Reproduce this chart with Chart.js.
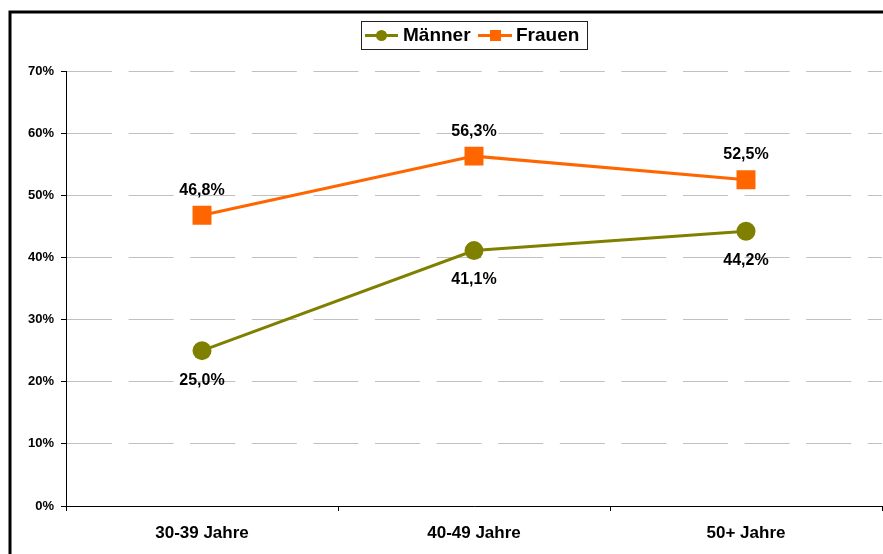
<!DOCTYPE html>
<html>
<head>
    <meta charset="utf-8">
    <title>Männer / Frauen nach Alter</title>
    <script src="https://cdn.jsdelivr.net/npm/chart.js"></script>
    <style>
        html, body { margin: 0; padding: 0; background: #fff; }
    </style>
</head>
<body>
    <div style="width: 883px; height: 554px;">
        <canvas id="myChart" width="883" height="554"></canvas>
    </div>
    <script>
        // data
        const ageGroups = ['30-39 Jahre', '40-49 Jahre', '50+ Jahre'];
        const maenner = [25.0, 41.1, 44.2];
        const frauen = [46.8, 56.3, 52.5];
        const yTicks = [0, 10, 20, 30, 40, 50, 60, 70];

        const FONT = 'Arial, "Liberation Sans", sans-serif';
        const OLIVE = '#808000';
        const ORANGE = '#FF6600';

        // black frame on top and left edge
        const framePlugin = {
            id: 'frame',
            beforeDraw(chart) {
                const ctx = chart.ctx;
                ctx.save();
                ctx.strokeStyle = '#000';
                ctx.lineWidth = 3;
                ctx.beginPath();
                ctx.moveTo(10, 554);
                ctx.lineTo(10, 12);
                ctx.lineTo(883, 12);
                ctx.stroke();
                ctx.restore();
            }
        };

        // value labels: Männer below the points, Frauen above
        const valueLabels = {
            id: 'valueLabels',
            afterDatasetsDraw(chart) {
                const ctx = chart.ctx;
                ctx.save();
                ctx.font = 'bold 16px ' + FONT;
                ctx.fillStyle = '#000';
                ctx.textAlign = 'center';
                ctx.textBaseline = 'middle';
                chart.data.datasets.forEach((ds, i) => {
                    const meta = chart.getDatasetMeta(i);
                    const off = ds.label === 'Frauen' ? -25 : 29.5;
                    meta.data.forEach((pt, j) => {
                        const txt = ds.data[j].toFixed(1).replace('.', ',') + '%';
                        ctx.fillText(txt, pt.x, pt.y + off);
                    });
                });
                ctx.restore();
            }
        };

        // boxed legend with line + marker like the original
        const boxLegend = {
            id: 'boxLegend',
            afterDraw(chart) {
                const ctx = chart.ctx;
                ctx.save();
                ctx.fillStyle = '#fff';
                ctx.fillRect(361, 21, 226, 28);
                ctx.strokeStyle = '#222';
                ctx.lineWidth = 1;
                ctx.strokeRect(361.5, 21.5, 226, 28);

                ctx.lineWidth = 3;
                ctx.strokeStyle = OLIVE;
                ctx.beginPath();
                ctx.moveTo(365, 35.5);
                ctx.lineTo(398, 35.5);
                ctx.stroke();
                ctx.fillStyle = OLIVE;
                ctx.beginPath();
                ctx.arc(381.5, 35.5, 5.5, 0, Math.PI * 2);
                ctx.fill();

                ctx.strokeStyle = ORANGE;
                ctx.beginPath();
                ctx.moveTo(478, 35.5);
                ctx.lineTo(512, 35.5);
                ctx.stroke();
                ctx.fillStyle = ORANGE;
                ctx.fillRect(490, 30, 11, 11);

                ctx.fillStyle = '#000';
                ctx.font = 'bold 19px ' + FONT;
                ctx.textAlign = 'left';
                ctx.textBaseline = 'middle';
                ctx.fillText(chart.data.datasets[0].label, 403, 36);
                ctx.fillText(chart.data.datasets[1].label, 516, 36);
                ctx.restore();
            }
        };

        const ctx = document.getElementById('myChart').getContext('2d');
        const myChart = new Chart(ctx, {
            type: 'line',
            data: {
                labels: ageGroups,
                datasets: [
                    {
                        label: 'Männer',
                        data: maenner,
                        borderColor: OLIVE,
                        backgroundColor: OLIVE,
                        borderWidth: 3,
                        pointStyle: 'circle',
                        pointRadius: 9.5,
                        pointBorderWidth: 0,
                        fill: false,
                        tension: 0,
                    },
                    {
                        label: 'Frauen',
                        data: frauen,
                        borderColor: ORANGE,
                        backgroundColor: ORANGE,
                        borderWidth: 3,
                        pointStyle: 'rect',
                        pointRadius: 13.4,
                        pointBorderWidth: 0,
                        fill: false,
                        tension: 0,
                    },
                ],
            },
            options: {
                responsive: false,
                animation: false,
                devicePixelRatio: 1,
                layout: {
                    autoPadding: false,
                    padding: { top: 71, right: 1, bottom: 0, left: 0 },
                },
                plugins: {
                    legend: { display: false },
                    tooltip: { enabled: false },
                },
                scales: {
                    x: {
                        offset: true,
                        afterFit: s => { s.height = 48; },
                        grid: {
                            offset: true,
                            drawOnChartArea: false,
                            tickLength: 5,
                            tickColor: '#000',
                        },
                        border: { color: '#000', width: 1 },
                        ticks: {
                            padding: 12,
                            color: '#000',
                            font: { family: FONT, size: 17, weight: 'bold' },
                        },
                    },
                    y: {
                        min: 0,
                        max: 70,
                        afterFit: s => { s.width = 66; },
                        afterBuildTicks: s => { s.ticks = yTicks.map(v => ({ value: v })); },
                        grid: {
                            color: '#c0c0c0',
                            lineWidth: 1,
                            tickLength: 5,
                            tickColor: '#000',
                        },
                        border: { color: '#000', width: 1, dash: [45, 16.6] },
                        ticks: {
                            padding: 7,
                            color: '#000',
                            font: { family: FONT, size: 13, weight: 'bold' },
                            callback: v => v + '%',
                        },
                    },
                },
            },
            plugins: [framePlugin, valueLabels, boxLegend],
        });
    </script>
</body>
</html>
